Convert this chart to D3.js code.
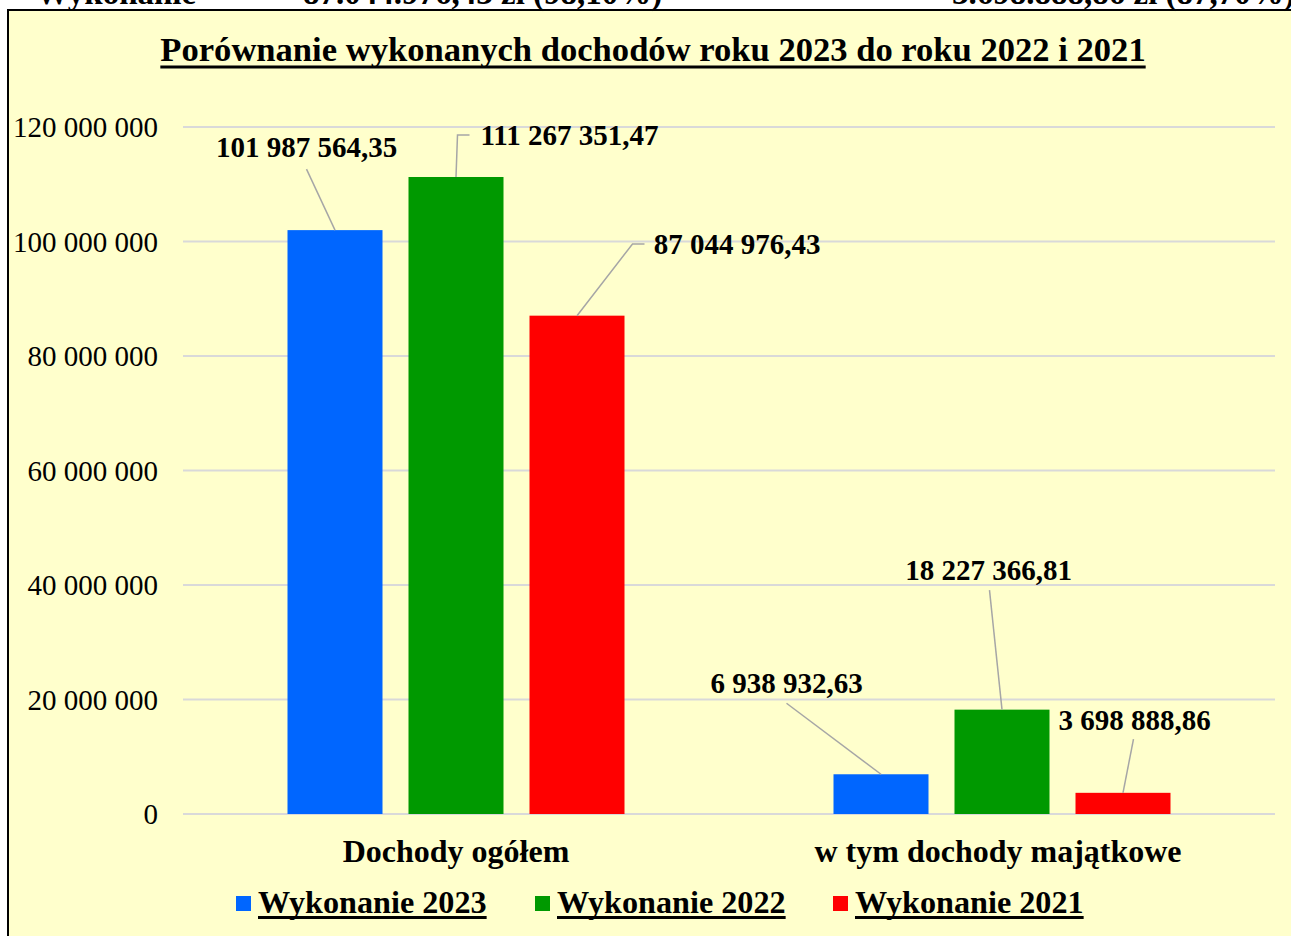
<!DOCTYPE html>
<html><head><meta charset="utf-8">
<script src="https://cdn.jsdelivr.net/npm/d3@7"></script>
<style>
html,body{margin:0;padding:0;background:#fff;overflow:hidden;}
svg{display:block;font-family:"Liberation Serif","Times New Roman",serif;}
</style></head>
<body>
<svg id="c" width="1291" height="936"></svg>
<script>
// ---- data ----
const categories = ["Dochody ogółem", "w tym dochody majątkowe"];
const seriesNames = ["Wykonanie 2023", "Wykonanie 2022", "Wykonanie 2021"];
const values2023 = [101987564.35, 6938932.63];
const values2022 = [111267351.47, 18227366.81];
const values2021 = [87044976.43, 3698888.86];
const yTicks = [0, 20000000, 40000000, 60000000, 80000000, 100000000, 120000000];
const headerTexts = ["Wykonanie", "87.044.976,43 zł (98,10%)", "3.698.888,86 zł (87,70%)"];
const title = "Porównanie wykonanych dochodów roku 2023 do roku 2022 i 2021";

// ---- layout / style ----
const colors = ["#0066FF", "#009900", "#FF0000"];
const W = 1291, H = 936;
const plot = {left: 183, right: 1275, top: 127, bottom: 814};
// label placement offsets relative to bar top centre [series][category]
const labelOff = [
  [{dx:-28.5, dy:-73, leader:[[-28.5,-61]]}, {dx:-94.5, dy:-81, leader:[[-94.5,-71]]}],
  [{dx:113.5, dy:-32, leader:[[1.5,-42],[13.5,-42]]}, {dx:-13.5, dy:-129.6, leader:[[-12.5,-119.6]]}],
  [{dx:160, dy:-61.7, leader:[[55.5,-71.7],[67.5,-71.7]]}, {dx:11.5, dy:-62.8, leader:[[10.5,-53.8]]}]
];

const svg = d3.select("#c");
svg.append("rect").attr("x",0).attr("y",0).attr("width",W).attr("height",H).attr("fill","#fff");
// frame
svg.append("rect").attr("x",8).attr("y",10).attr("width",1400).attr("height",1000)
  .attr("fill","#FFFFCC").attr("stroke","#000").attr("stroke-width",2);

// clipped header text from document above
const hx = [36, 303, 952];
svg.selectAll("text.hdr").data(headerTexts).join("text").attr("class","hdr")
  .attr("x",(d,i)=>hx[i]).attr("y",4).attr("font-size",33).attr("font-weight","bold").text(d=>d);
svg.append("line").attr("x1",8).attr("x2",1291).attr("y1",10).attr("y2",10).attr("stroke","#000").attr("stroke-width",2);

// title
const t = svg.append("text").attr("x",653).attr("y",61).attr("text-anchor","middle")
  .attr("font-size",34.6).attr("font-weight","bold").text(title);
const tb = t.node().getBBox();
svg.append("rect").attr("x",tb.x).attr("y",65.5).attr("width",tb.width).attr("height",3).attr("fill","#000");

const loc = d3.formatLocale({decimal:",", thousands:" ", grouping:[3], currency:["","zł"]});
const fmtTick = loc.format(",.0f");
const fmtVal = loc.format(",.2f");

const y = d3.scaleLinear().domain([0,120000000]).range([plot.bottom, plot.top]);
const x0 = d3.scaleBand().domain(categories).range([plot.left, plot.right]).paddingInner(0).paddingOuter(0);
const x1 = d3.scaleBand().domain(seriesNames).range([104.5, 441.5]).paddingInner(26/121).paddingOuter(0);

// gridlines
svg.append("g").selectAll("line").data(yTicks).join("line")
  .attr("x1",plot.left).attr("x2",plot.right)
  .attr("y1",d=>y(d)).attr("y2",d=>y(d))
  .attr("stroke","#D9D9D9").attr("stroke-width",2);

// y axis labels
const yAxis = d3.axisLeft(y).tickValues(yTicks).tickFormat(fmtTick).tickSize(0).tickPadding(0);
const ga = svg.append("g").attr("transform","translate(158,0)").call(yAxis);
ga.select(".domain").remove();
ga.selectAll("text").attr("font-size",29).attr("font-family","Liberation Serif").attr("fill","#000").attr("dy","0.33em");

const allVals = [values2023, values2022, values2021];
const bars = [];
allVals.forEach((vals,si)=>{
  vals.forEach((v,ci)=>{
    bars.push({si, ci, v, x: x0(categories[ci]) + x1(seriesNames[si]), w: x1.bandwidth()});
  });
});

svg.append("g").selectAll("rect").data(bars).join("rect")
  .attr("x",d=>d.x).attr("width",d=>d.w)
  .attr("y",d=>y(d.v)).attr("height",d=>y(0)-y(d.v))
  .attr("fill",d=>colors[d.si]);

// leaders and labels
const lg = svg.append("g");
bars.forEach(d=>{
  const o = labelOff[d.si][d.ci];
  const cx = d.x + d.w/2, cy = y(d.v);
  const pts = [[cx,cy]].concat(o.leader.map(p=>[cx+p[0], cy+p[1]]));
  lg.append("path").attr("d", d3.line()(pts)).attr("fill","none").attr("stroke","#A6A6A6").attr("stroke-width",1.5);
  lg.append("text").attr("x",cx+o.dx).attr("y",cy+o.dy).attr("text-anchor","middle")
    .attr("font-size",29).attr("font-weight","bold").text(fmtVal(d.v));
});

// category labels
svg.append("g").selectAll("text").data(categories).join("text")
  .attr("x",d=>x0(d)+x0.bandwidth()/2 - (d===categories[1]?4:0)).attr("y",862)
  .attr("text-anchor","middle").attr("font-size",32).attr("font-weight","bold").text(d=>d);

// legend
const legX = [236, 535, 833];
const leg = svg.append("g");
seriesNames.forEach((s,i)=>{
  leg.append("rect").attr("x",legX[i]).attr("y",896).attr("width",15).attr("height",15).attr("fill",colors[i]);
  const tx = leg.append("text").attr("x",legX[i]+22).attr("y",913).attr("font-size",32.2).attr("font-weight","bold").text(s);
  const b = tx.node().getBBox();
  leg.append("rect").attr("x",b.x).attr("y",916).attr("width",b.width).attr("height",3).attr("fill","#000");
});
</script>
</body></html>
